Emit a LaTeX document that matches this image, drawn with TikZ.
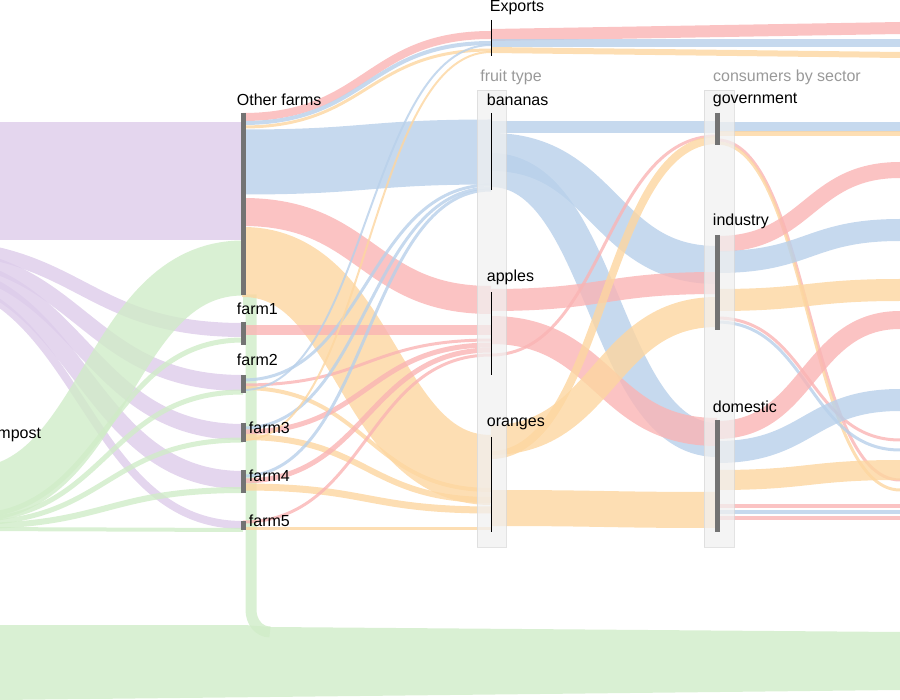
\documentclass[tikz,border=0pt]{standalone}
\usepackage{fontspec}
\setmainfont{Liberation Sans}
\definecolor{cPurple}{RGB}{221,204,234}
\definecolor{cBlue}{RGB}{184,208,234}
\definecolor{cRed}{RGB}{250,180,180}
\definecolor{cOrange}{RGB}{253,214,160}
\definecolor{cGreen}{RGB}{208,236,200}
\tikzset{
  band/.style={line width=#1, opacity=0.8},
  lab/.style={font=\fontsize{16}{16}\selectfont, inner sep=0.75pt},
  farmbar/.style={draw=gray!90!black, line width=5pt},
  fruitline/.style={draw=black, line width=0.9pt},
  colbox/.style={fill=gray!12, draw=gray!30, opacity=0.75}
}
% sankey band: colour, width, x1, y1, x2, y2
\newcommand{\flow}[6]{%
  \draw[#1, band=#2] (#3,#4) .. controls ({(#3+#5)/2},#4) and ({(#3+#5)/2},#6) .. (#5,#6);}
\begin{document}
\begin{tikzpicture}[x=1pt,y=-1pt]
  \useasboundingbox (0,0) rectangle (900,700);
  \clip (0,0) rectangle (900,700);
  % purple source
  \fill[cPurple, opacity=0.8] (0,122) rectangle (243,240);
  \flow{cPurple}{14}{-80}{246}{243}{330}
  \flow{cPurple}{16}{-80}{254}{243}{383}
  \flow{cPurple}{16}{-80}{262}{243}{432}
  \flow{cPurple}{18}{-80}{270}{243}{480}
  \flow{cPurple}{8}{-80}{278}{243}{525}
  % compost
  \flow{cGreen}{55}{-30}{495}{243}{268}
  \flow{cGreen}{5}{-30}{516}{243}{340}
  \flow{cGreen}{5}{-30}{520}{243}{392}
  \flow{cGreen}{5}{-30}{523}{243}{440}
  \flow{cGreen}{6}{-30}{526}{243}{490}
  \flow{cGreen}{4}{-30}{529}{243}{530}
  \draw[cGreen, band=11] (243,300) -- (251,300) -- (251,610) to[out=-90,in=180] (270,632);
  \fill[cGreen, opacity=0.8] (0,625) -- (245,625) -- (270,627) -- (900,632) -- (900,690) -- (0,700) -- cycle;
  % other farms
  \flow{cRed}{8}{243}{117}{491}{35}
  \flow{cBlue}{4}{243}{123}{491}{43}
  \flow{cOrange}{3}{243}{127}{491}{50}
  \draw[cRed, band=12] (491,35) -- (900,28);
  \draw[cBlue, band=8] (491,43) -- (900,43);
  \draw[cOrange, band=6] (491,50) -- (900,55);
  \flow{cBlue}{65}{243}{162}{491}{152}
  \flow{cRed}{28}{243}{212}{491}{300}
  \flow{cOrange}{70}{243}{262}{491}{470}
  % farms to fruit
  \flow{cRed}{10}{243}{330}{491}{330}
  \flow{cBlue}{3}{243}{380}{491}{185}
  \flow{cRed}{3}{243}{385}{491}{340}
  \flow{cOrange}{4}{243}{388}{491}{490}
  \flow{cBlue}{3}{243}{428}{491}{188}
  \flow{cRed}{5}{243}{432}{491}{345}
  \flow{cOrange}{6}{243}{437}{491}{500}
  \flow{cBlue}{3}{243}{476}{491}{190}
  \flow{cRed}{5}{243}{481}{491}{350}
  \flow{cOrange}{7}{243}{487}{491}{510}
  \flow{cRed}{3}{243}{522}{491}{355}
  \flow{cOrange}{3}{243}{528}{491}{528}
  \flow{cBlue}{2}{243}{390}{491}{45}
  \flow{cOrange}{2}{243}{440}{491}{52}
  % fruit to consumers
  \flow{cBlue}{12}{491}{127}{717}{127}
  \flow{cBlue}{38}{491}{152}{717}{265}
  \flow{cBlue}{34}{491}{170}{717}{440}
  \flow{cRed}{22}{491}{300}{717}{283}
  \flow{cRed}{28}{491}{330}{717}{432}
  \flow{cRed}{3}{491}{355}{717}{136}
  \flow{cOrange}{8}{491}{455}{717}{140}
  \flow{cOrange}{30}{491}{440}{717}{312}
  \flow{cOrange}{36}{491}{508}{717}{510}
  % consumers onwards
  \draw[cBlue, band=10] (717,127) -- (900,127);
  \draw[cOrange, band=5] (717,134) -- (900,134);
  \flow{cRed}{3}{717}{140}{900}{480}
  \flow{cOrange}{3}{717}{143}{900}{490}
  \flow{cRed}{16}{717}{244}{900}{170}
  \flow{cBlue}{22}{717}{262}{900}{230}
  \flow{cOrange}{22}{717}{300}{900}{290}
  \flow{cRed}{3}{717}{318}{900}{440}
  \flow{cBlue}{3}{717}{322}{900}{450}
  \flow{cRed}{18}{717}{430}{900}{320}
  \flow{cBlue}{22}{717}{452}{900}{400}
  \flow{cOrange}{20}{717}{480}{900}{470}
  \draw[cRed, band=4] (717,506) -- (900,506);
  \draw[cBlue, band=4] (717,512) -- (900,512);
  \draw[cRed, band=4] (717,518) -- (900,518);
  % column boxes
  \draw[colbox] (477,90) rectangle (506,547);
  \draw[colbox] (704,90) rectangle (734,547);
  % bars
  \draw[farmbar] (243,113) -- (243,295);
  \draw[farmbar] (243,322) -- (243,345);
  \draw[farmbar] (243,375) -- (243,393);
  \draw[farmbar] (243,423) -- (243,442);
  \draw[farmbar] (243,470) -- (243,493);
  \draw[farmbar] (243,521) -- (243,530);
  \draw[fruitline] (491,20) -- (491,56);
  \draw[fruitline] (491,113) -- (491,190);
  \draw[fruitline] (491,292) -- (491,375);
  \draw[fruitline] (491,437) -- (491,532);
  \draw[farmbar] (717,113) -- (717,145);
  \draw[farmbar] (717,235) -- (717,330);
  \draw[farmbar] (717,420) -- (717,532);
  % labels
  \node[lab] (exports) at (517,8) {Exports};
  \node[lab, text=gray!80] (fruittype) at (511,77) {fruit type};
  \node[lab, text=gray!80] (sector) at (787,77) {consumers by sector};
  \node[lab, anchor=west] (bananas) at (486,100) {bananas};
  \node[lab, anchor=west] (apples) at (486,277) {apples};
  \node[lab, anchor=west] (oranges) at (486,424) {oranges};
  \node[lab, anchor=west] (gov) at (712,100) {government};
  \node[lab, anchor=west] (industry) at (712,221) {industry};
  \node[lab, anchor=west] (domestic) at (712,407) {domestic};
  \node[lab, anchor=west] (other) at (236,100) {Other farms};
  \node[lab, anchor=west] (farm1) at (236,309) {farm1};
  \node[lab, anchor=west] (farm2) at (236,360) {farm2};
  \node[lab, anchor=west] (farm3) at (248,428) {farm3};
  \node[lab, anchor=west] (farm4) at (248,476) {farm4};
  \node[lab, anchor=west] (farm5) at (248,521) {farm5};
  \node[lab, anchor=east] (compost) at (42,435) {compost};
\end{tikzpicture}
\end{document}
